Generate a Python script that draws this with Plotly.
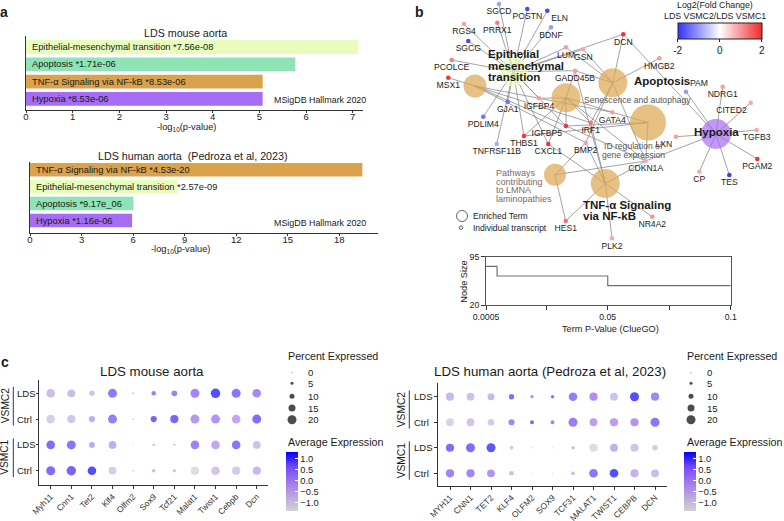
import plotly.graph_objects as go

W, H = 784, 521
FONT = "Arial, 'Liberation Sans', sans-serif"
INK = "#1a1a1a"

# ---------------- panel a : enrichment bars (MSigDB Hallmark 2020)
term_colors = {
    "Epithelial-mesenchymal transition": "#e8fcbc",
    "Apoptosis": "#8ee4b4",
    "TNF-α Signaling via NF-kB": "#dba24c",
    "Hypoxia": "#a66cf4",
}
mouse_terms = ["Epithelial-mesenchymal transition", "Apoptosis", "TNF-α Signaling via NF-kB", "Hypoxia"]
mouse_pvals = ["7.56e-08", "1.71e-06", "8.53e-06", "8.53e-06"]
mouse_logp = [7.12, 5.77, 5.07, 5.07]

human_terms = ["TNF-α Signaling via NF-kB", "Epithelial-mesenchymal transition", "Apoptosis", "Hypoxia"]
human_pvals = ["4.53e-20", "2.57e-09", "9.17e_06", "1.16e-06"]
human_logp = [19.34, 8.59, 6.02, 5.94]

# ---------------- panel b : ClueGO network
term_ids = ["EMT", "T2", "SEN", "APO", "IDR", "HYP", "LMNA", "TNF"]
term_x = [513.3, 475.0, 566.0, 612.8, 648.0, 716.0, 555.0, 605.3]
term_y = [71.7, 86.0, 97.7, 82.8, 122.5, 134.0, 174.8, 183.5]
term_size = [29, 23, 29, 29, 36, 30, 22, 29]
term_fill = ["#e8fcbc", "#dba64e", "#dba64e", "#dba64e", "#dba64e", "#a66cf2", "#dba64e", "#dba64e"]

gene_names = ["SGCD", "POSTN", "ELN", "BDNF", "RGS4", "PRRX1", "SGCG", "PCOLCE", "MSX1", "GJA1",
              "PDLIM4", "TNFRSF11B", "IGFBP4", "THBS1", "CXCL1", "IGFBP5", "IRF1", "BMP2", "GATA4",
              "GADD45B", "LUM", "GSN", "DCN", "HMGB2", "PAM", "NDRG1", "CITED2", "TGFB3", "LXN",
              "PGAM2", "CP", "TES", "CDKN1A", "HES1", "NR4A2", "PLK2"]
gene_x = [499.0, 527.3, 547.3, 551.0, 464.0, 497.3, 468.3, 451.7, 448.3, 507.7,
          483.3, 496.7, 539.0, 524.0, 548.3, 566.0, 590.7, 585.7, 612.3,
          575.0, 566.0, 583.3, 623.3, 659.3, 686.0, 722.7, 750.7, 756.7, 676.0,
          757.3, 699.3, 729.3, 645.7, 565.7, 652.3, 612.0]
gene_y = [4.0, 9.0, 10.7, 27.3, 24.0, 22.7, 41.0, 60.0, 77.7, 101.7,
          116.7, 144.0, 98.3, 136.0, 144.0, 126.0, 122.7, 142.7, 112.3,
          70.7, 47.3, 49.3, 34.3, 58.3, 91.7, 86.7, 102.7, 130.0, 136.7,
          159.0, 171.7, 175.0, 161.0, 221.0, 216.7, 238.3]
gene_fc = [-0.9, -1.8, -1.8, -1.0, 0.9, 1.2, -1.8, 1.2, 1.9, -1.4,
           -1.4, -0.8, 0.9, 1.9, 1.9, 1.9, 1.3, 0.9, 0.9,
           0.9, 0.9, 0.8, 1.9, 0.9, -1.0, 0.9, 0.8, 0.8, 0.9,
           1.9, 0.8, -1.9, 0.8, 1.3, 1.0, 0.8]
gene_textpos = ["bottom center", "bottom center", "bottom right", "bottom center", "bottom center",
                "bottom center", "bottom center", "bottom center", "bottom center", "bottom center",
                "bottom center", "bottom center", "bottom center", "bottom center", "bottom center",
                "bottom left", "bottom center", "bottom center", "bottom center",
                "bottom center", "bottom center", "bottom center", "bottom center", "bottom center",
                "top right", "bottom center", "bottom left", "bottom center", "bottom left",
                "bottom center", "bottom center", "bottom center", "bottom center", "bottom center",
                "bottom center", "bottom center"]

edges = {
    "EMT": ["SGCD", "POSTN", "ELN", "BDNF", "RGS4", "PRRX1", "SGCG", "PCOLCE", "GJA1", "PDLIM4",
            "TNFRSF11B", "IGFBP4", "THBS1", "CXCL1", "LUM", "GSN", "DCN", "GADD45B", "IGFBP5"],
    "T2": ["MSX1", "GATA4", "BMP2", "CDKN1A", "IRF1"],
    "SEN": ["GADD45B", "IGFBP5", "IRF1", "THBS1", "CXCL1", "GATA4", "CDKN1A", "IGFBP4"],
    "APO": ["DCN", "HMGB2", "GSN", "LUM", "GADD45B", "IRF1", "CDKN1A", "BMP2"],
    "IDR": ["GATA4", "IGFBP5", "THBS1", "CDKN1A"],
    "HYP": ["PAM", "NDRG1", "CITED2", "TGFB3", "LXN", "PGAM2", "CP", "TES", "DCN", "CDKN1A"],
    "LMNA": ["HES1", "BMP2", "CDKN1A"],
    "TNF": ["HES1", "NR4A2", "PLK2", "CDKN1A", "IRF1", "CXCL1", "GADD45B", "BMP2"],
}

# node size vs term p-value (ClueGO)
step_p = [0.0005, 0.005, 0.05, 0.1]
step_size = [80, 65, 50, 50]

# ---------------- panel c : dot plots
row_groups = ["VSMC2", "VSMC2", "VSMC1", "VSMC1"]
row_conds = ["LDS", "Ctrl", "LDS", "Ctrl"]

mouse_genes = ["Myh11", "Cnn1", "Tet2", "Klf4", "Olfm2", "Sox9", "Tcf21", "Malat1", "Twist1", "Cebpb", "Dcn"]
mouse_avg = [
    [-0.6, -0.6, -0.8, 0.75, 0.5, 0.6, 0.6, 0.5, 1.3, 0.8, 0.45],
    [-1.0, -0.8, -0.3, 0.7, 0.4, 1.0, 1.0, 0.1, 0.2, -0.2, 0.9],
    [0.9, 0.8, -0.2, -0.3, -1.0, -0.8, -0.7, 0.6, -0.2, 0.8, -0.7],
    [0.9, 1.0, 1.3, -1.0, -0.3, -0.5, -0.5, -1.3, -0.8, -0.9, -0.5],
]
mouse_pct = [
    [19, 17, 11, 20, 1, 9, 12, 20, 21, 20, 19],
    [19, 18, 13, 20, 1, 13, 18, 20, 20, 19, 20],
    [19, 20, 12, 17, 0.5, 4, 3, 19, 19, 19, 17],
    [20, 21, 19, 17, 0.5, 6, 5, 19, 19, 18, 18],
]

human_genes = ["MYH11", "CNN1", "TET2", "KLF4", "OLFM2", "SOX9", "TCF31", "MALAT1", "TWIST1", "CEBPB", "DCN"]
human_avg = [
    [-0.5, -0.7, -0.5, 0.9, 0.4, 0.8, 0.7, 0.3, -0.7, 1.3, 0.5],
    [-1.1, -0.8, -0.9, 0.5, 1.0, 0.6, 0.7, 0.0, 0.0, 0.2, 0.8],
    [0.9, 0.9, 1.2, -0.9, -1.0, -1.0, -0.6, -1.3, -0.3, -0.8, -0.9],
    [0.6, 0.5, 0.2, -0.6, -1.0, -1.0, -0.6, 0.8, 1.3, -0.4, -0.6],
]
human_pct = [
    [18, 17, 15, 11, 5.5, 6, 19, 18, 17, 20, 18],
    [17, 17, 14, 13, 7, 7, 20, 17, 18, 18, 20],
    [18, 20, 20, 7, 1, 0.5, 6, 18, 17, 18, 11],
    [18, 18, 17, 9, 0.3, 0.5, 7, 19, 19, 18, 17],
]

pct_legend = [0, 5, 10, 15, 20]
avg_ticks = [1.0, 0.5, 0.0, -0.5, -1.0]

# ---------------- helpers
def dom_x(left, right):
    return [left / W, right / W]


def dom_y(top, bottom):
    return [1 - bottom / H, 1 - top / H]


def dot_size(p):
    return 1 + 0.4 * p


notes = []


def note(x, y, text, size=9, color=INK, xanchor="center", yanchor="middle", angle=0,
         xref="x6", yref="y6", xshift=0):
    notes.append(dict(x=x, y=y, text=text, xref=xref, yref=yref, showarrow=False,
                      font=dict(size=size, color=color, family=FONT), xanchor=xanchor,
                      yanchor=yanchor, textangle=angle, xshift=xshift))


avg_scale = [[0, "#d3d3d3"], [0.25, "#bba5e0"], [0.5, "#9d77ec"], [0.75, "#7248f6"], [1, "#0000ff"]]
fc_scale = [[0, "#3333ff"], [0.5, "#ffffff"], [1, "#ee2a2a"]]

fig = go.Figure()

# ---------------- panel a bars
for terms, pvals, logp, xa, ya in [(mouse_terms, mouse_pvals, mouse_logp, "x", "y"),
                                   (human_terms, human_pvals, human_logp, "x2", "y2")]:
    rows = list(range(len(terms)))
    fig.add_trace(go.Bar(x=logp, y=rows, orientation="h", width=0.8,
                         marker=dict(color=[term_colors[t] for t in terms], line_width=0),
                         xaxis=xa, yaxis=ya, hoverinfo="skip"))
    for r, t, p in zip(rows, terms, pvals):
        note(0, r, f"{t} *{p}", size=9.3, xanchor="left", xref=xa, yref=ya, xshift=4)

note(185, 33, "LDS mouse aorta", size=10.7)
note(193, 156, "LDS human aorta \u00a0(Pedroza et al, 2023)", size=10.7)
note(368, 100, "MSigDB Hallmark 2020", size=8.9, xanchor="right")
note(368, 223, "MSigDB Hallmark 2020", size=8.9, xanchor="right")
note(186.7, 127.5, "-log<sub>10</sub>(p-value)", size=9.3)
note(180.7, 249.5, "-log<sub>10</sub>(p-value)", size=9.3)

# ---------------- panel b network
pos = {t: (x, y) for t, x, y in zip(term_ids, term_x, term_y)}
pos.update({g: (x, y) for g, x, y in zip(gene_names, gene_x, gene_y)})
ex, ey = [], []
for term, genes in edges.items():
    for g in genes:
        ex += [pos[term][0], pos[g][0], None]
        ey += [pos[term][1], pos[g][1], None]
fig.add_trace(go.Scatter(x=ex, y=ey, mode="lines", line=dict(color="#8c8c8c", width=0.8),
                         xaxis="x6", yaxis="y6", hoverinfo="skip"))
fig.add_trace(go.Scatter(x=term_x, y=term_y, mode="markers", xaxis="x6", yaxis="y6",
                         marker=dict(size=term_size, color=term_fill, line_width=0), hoverinfo="skip"))
fig.add_trace(go.Scatter(
    x=gene_x, y=gene_y, mode="markers+text", text=gene_names, textposition=gene_textpos,
    textfont=dict(size=8.6, color="#222", family=FONT), xaxis="x6", yaxis="y6", cliponaxis=False,
    marker=dict(size=4.6, color=gene_fc, colorscale=fc_scale, cmin=-2, cmax=2, line_width=0,
                showscale=True,
                colorbar=dict(orientation="h", x=677.7 / W, xanchor="left", xpad=0,
                              y=1 - 22.7 / H, yanchor="top", ypad=0, len=84, lenmode="pixels",
                              thickness=16.3, thicknessmode="pixels", outlinewidth=1,
                              outlinecolor="#222", tickvals=[-2, 0, 2], ticktext=["-2", "0", "2"],
                              ticks="outside", ticklen=3, tickcolor="#222",
                              tickfont=dict(size=10, color=INK, family=FONT))),
    hoverinfo="skip"))
# legend of node types
fig.add_trace(go.Scatter(x=[462, 461], y=[216, 227.7], mode="markers", xaxis="x6", yaxis="y6",
                         marker=dict(symbol="circle-open", size=[11, 3.5], color="#222",
                                     line=dict(width=1, color="#222")), hoverinfo="skip"))
note(471, 216, "Enriched Term", size=8.5, xanchor="left")
note(471, 227.5, "Individual transcript", size=8.5, xanchor="left")

note(715, 4.5, "Log2(Fold Change)", size=8.8)
note(715, 15.7, "LDS VSMC2/LDS VSMC1", size=8.8)

for i, line in enumerate(["Epithelial", "mesenchymal", "transition"]):
    note(486, 54.3 + 11.5 * i, f"<b>{line}</b>", size=11.5, xanchor="left")
note(631.7, 80.5, "<b>Apoptosis</b>", size=11.5, xanchor="left")
note(716.3, 132, "<b>Hypoxia</b>", size=11.5)
note(581, 205, "<b>TNF-α Signaling</b>", size=11.5, xanchor="left")
note(581, 215.7, "<b>via NF-kB</b>", size=11.5, xanchor="left")
note(581.7, 100, "Senescence and autophagy", size=8.6, color="#555", xanchor="left")
note(633.5, 146, "ID regulation of", size=8.6, color="#555")
note(633.5, 154.5, "gene expression", size=8.6, color="#555")
for i, line in enumerate(["Pathways", "contributing", "to LMNA", "laminopathies"]):
    note(494.3, 173.3 + 8.4 * i, line, size=9, color="#7a6a6a", xanchor="left")

# step plot
fig.add_trace(go.Scatter(x=step_p, y=step_size, mode="lines", line=dict(color="#707070", width=1.2,
                         shape="hv"), xaxis="x3", yaxis="y3", hoverinfo="skip"))
note(464, 281.7, "Node Size", size=9.2, angle=-90)
note(610, 328.5, "Term P-Value (ClueGO)", size=9.2)

# ---------------- panel c dot plots
for genes, avg, pct, xa, ya in [(mouse_genes, mouse_avg, mouse_pct, "x4", "y4"),
                                (human_genes, human_avg, human_pct, "x5", "y5")]:
    xs, ys, cs, ss = [], [], [], []
    for r in range(len(row_conds)):
        for g in range(len(genes)):
            xs.append(g)
            ys.append(r)
            cs.append(avg[r][g])
            ss.append(dot_size(pct[r][g]))
    cb_left = 286 if xa == "x4" else 684.3
    fig.add_trace(go.Scatter(
        x=xs, y=ys, mode="markers", xaxis=xa, yaxis=ya, hoverinfo="skip", cliponaxis=False,
        marker=dict(size=ss, color=cs, colorscale=avg_scale, cmin=-1.36, cmax=1.34, line_width=0,
                    showscale=True,
                    colorbar=dict(x=cb_left / W, xanchor="left", xpad=0, y=1 - 510.5 / H,
                                  yanchor="bottom", ypad=0, len=59, lenmode="pixels",
                                  thickness=11.7, thicknessmode="pixels", outlinewidth=0,
                                  tickvals=avg_ticks,
                                  ticktext=["1.0", "0.5", "0.0", "\u22120.5", "\u22121.0"],
                                  ticks="inside", ticklen=2.5, tickcolor="white",
                                  tickfont=dict(size=9.3, color=INK, family=FONT)))))

for ya, lab_x, br_x, vs_x, leg_x in [("y4", 15, 13.3, 5, 286), ("y5", 411.7, 409.3, 401.7, 685)]:
    for r, c in enumerate(row_conds):
        note(lab_x / W, r, c, size=9.5, xanchor="left", xref="paper", yref=ya)
    for grp, (r0, r1) in [("VSMC2", (0, 1)), ("VSMC1", (2, 3))]:
        note(vs_x / W, (r0 + r1) / 2, grp, size=10.2, angle=-90, xref="paper", yref=ya)
    # size legend
    leg_y = [372.7, 383.3, 396.3, 408.0, 419.7]
    fig.add_trace(go.Scatter(x=[leg_x + 6] * len(pct_legend), y=leg_y, mode="markers",
                             xaxis="x6", yaxis="y6", hoverinfo="skip",
                             marker=dict(size=[dot_size(p) for p in pct_legend], color="black",
                                         line_width=0)))
    for p, yy in zip(pct_legend, leg_y):
        note(leg_x + 20, yy, str(p), size=9.5, xanchor="left")
    note(leg_x, 356, "Percent Expressed", size=10.7, xanchor="left")
    note(leg_x, 442, "Average Expression", size=10.7, xanchor="left")

note(151.7, 371.7, "LDS mouse aorta", size=13.3)
note(550, 371.7, "LDS human aorta (Pedroza et al, 2023)", size=13.3)

# panel letters
note(4, 12, "<b>a</b>", size=14)
note(419.3, 12, "<b>b</b>", size=14)
note(4.5, 362, "<b>c</b>", size=14)

shapes = []
for ya, bx in [("y4", 13.3), ("y5", 409.3)]:
    for r0, r1 in [(-0.25, 1.25), (1.75, 3.25)]:
        shapes.append(dict(type="line", xref="paper", yref=ya, x0=bx / W, x1=bx / W, y0=r0, y1=r1,
                           line=dict(color="#222", width=0.9)))

axis_style = dict(showline=True, linecolor="#333", linewidth=1, ticks="outside", ticklen=2.5,
                  tickcolor="#333", showgrid=False, zeroline=False,
                  tickfont=dict(size=9.5, color=INK, family=FONT))
bar_x_style = {**axis_style, "ticklen": 2, "ticklabelstandoff": -4}
dot_x_style = {**axis_style, "tickfont": dict(size=8.5, color="#333", family=FONT)}
step_style = {**axis_style, "linecolor": "#555", "ticklen": 4,
              "tickfont": dict(size=8.7, color=INK, family=FONT)}

fig.update_layout(
    width=W, height=H, margin=dict(l=0, r=0, t=0, b=0, autoexpand=False), showlegend=False,
    paper_bgcolor="white", plot_bgcolor="rgba(0,0,0,0)", font=dict(family=FONT, color=INK),
    annotations=notes, shapes=shapes,
    xaxis=dict(domain=dom_x(26, 363), range=[0, 7.22], tickvals=list(range(8)), anchor="y",
               **bar_x_style),
    yaxis=dict(domain=dom_y(36, 110), range=[3.64, -0.636], showticklabels=False, ticks="",
               anchor="x", showline=True, linecolor="#333", linewidth=1, showgrid=False,
               zeroline=False),
    xaxis2=dict(domain=dom_x(30, 378), range=[0, 20.25], tickvals=list(range(0, 19, 3)),
                anchor="y2", **bar_x_style),
    yaxis2=dict(domain=dom_y(162, 232.7), range=[3.72, -0.455], showticklabels=False, ticks="",
                anchor="x2", showline=True, linecolor="#333", linewidth=1, showgrid=False,
                zeroline=False),
    xaxis3=dict(domain=dom_x(486, 730.7), range=[0.0005, 0.1],
                tickvals=[0.0005, 0.05, 0.1], ticktext=["0.0005", "0.05", "0.1"],
                minor=dict(tickvals=[0.025, 0.075], ticks="outside", ticklen=4, tickcolor="#333"),
                anchor="y3", mirror=True, **step_style),
    yaxis3=dict(domain=dom_y(256.7, 305), range=[20, 95], tickvals=[20, 95], anchor="x3",
                mirror=True, **step_style),
    xaxis4=dict(domain=dom_x(39, 268.3), range=[-0.568, 10.56], tickvals=list(range(11)),
                ticktext=mouse_genes, tickangle=-45, anchor="y4", **dot_x_style),
    yaxis4=dict(domain=dom_y(380, 485), range=[3.554, -0.516], tickvals=list(range(4)),
                showticklabels=False, anchor="x4", **axis_style),
    xaxis5=dict(domain=dom_x(437.7, 666.7), range=[-0.6, 10.57], tickvals=list(range(11)),
                ticktext=human_genes, tickangle=-45, anchor="y5", **dot_x_style),
    yaxis5=dict(domain=dom_y(383, 486), range=[3.498, -0.537], tickvals=list(range(4)),
                showticklabels=False, anchor="x5", **axis_style),
    xaxis6=dict(domain=[0, 1], range=[0, W], visible=False, anchor="y6"),
    yaxis6=dict(domain=[0, 1], range=[H, 0], visible=False, anchor="x6"),
)

# the page body keeps its default 8px margin otherwise
fig.write_html("out.html", config={"displayModeBar": False},
               post_script="document.body.style.margin = '0px';")
